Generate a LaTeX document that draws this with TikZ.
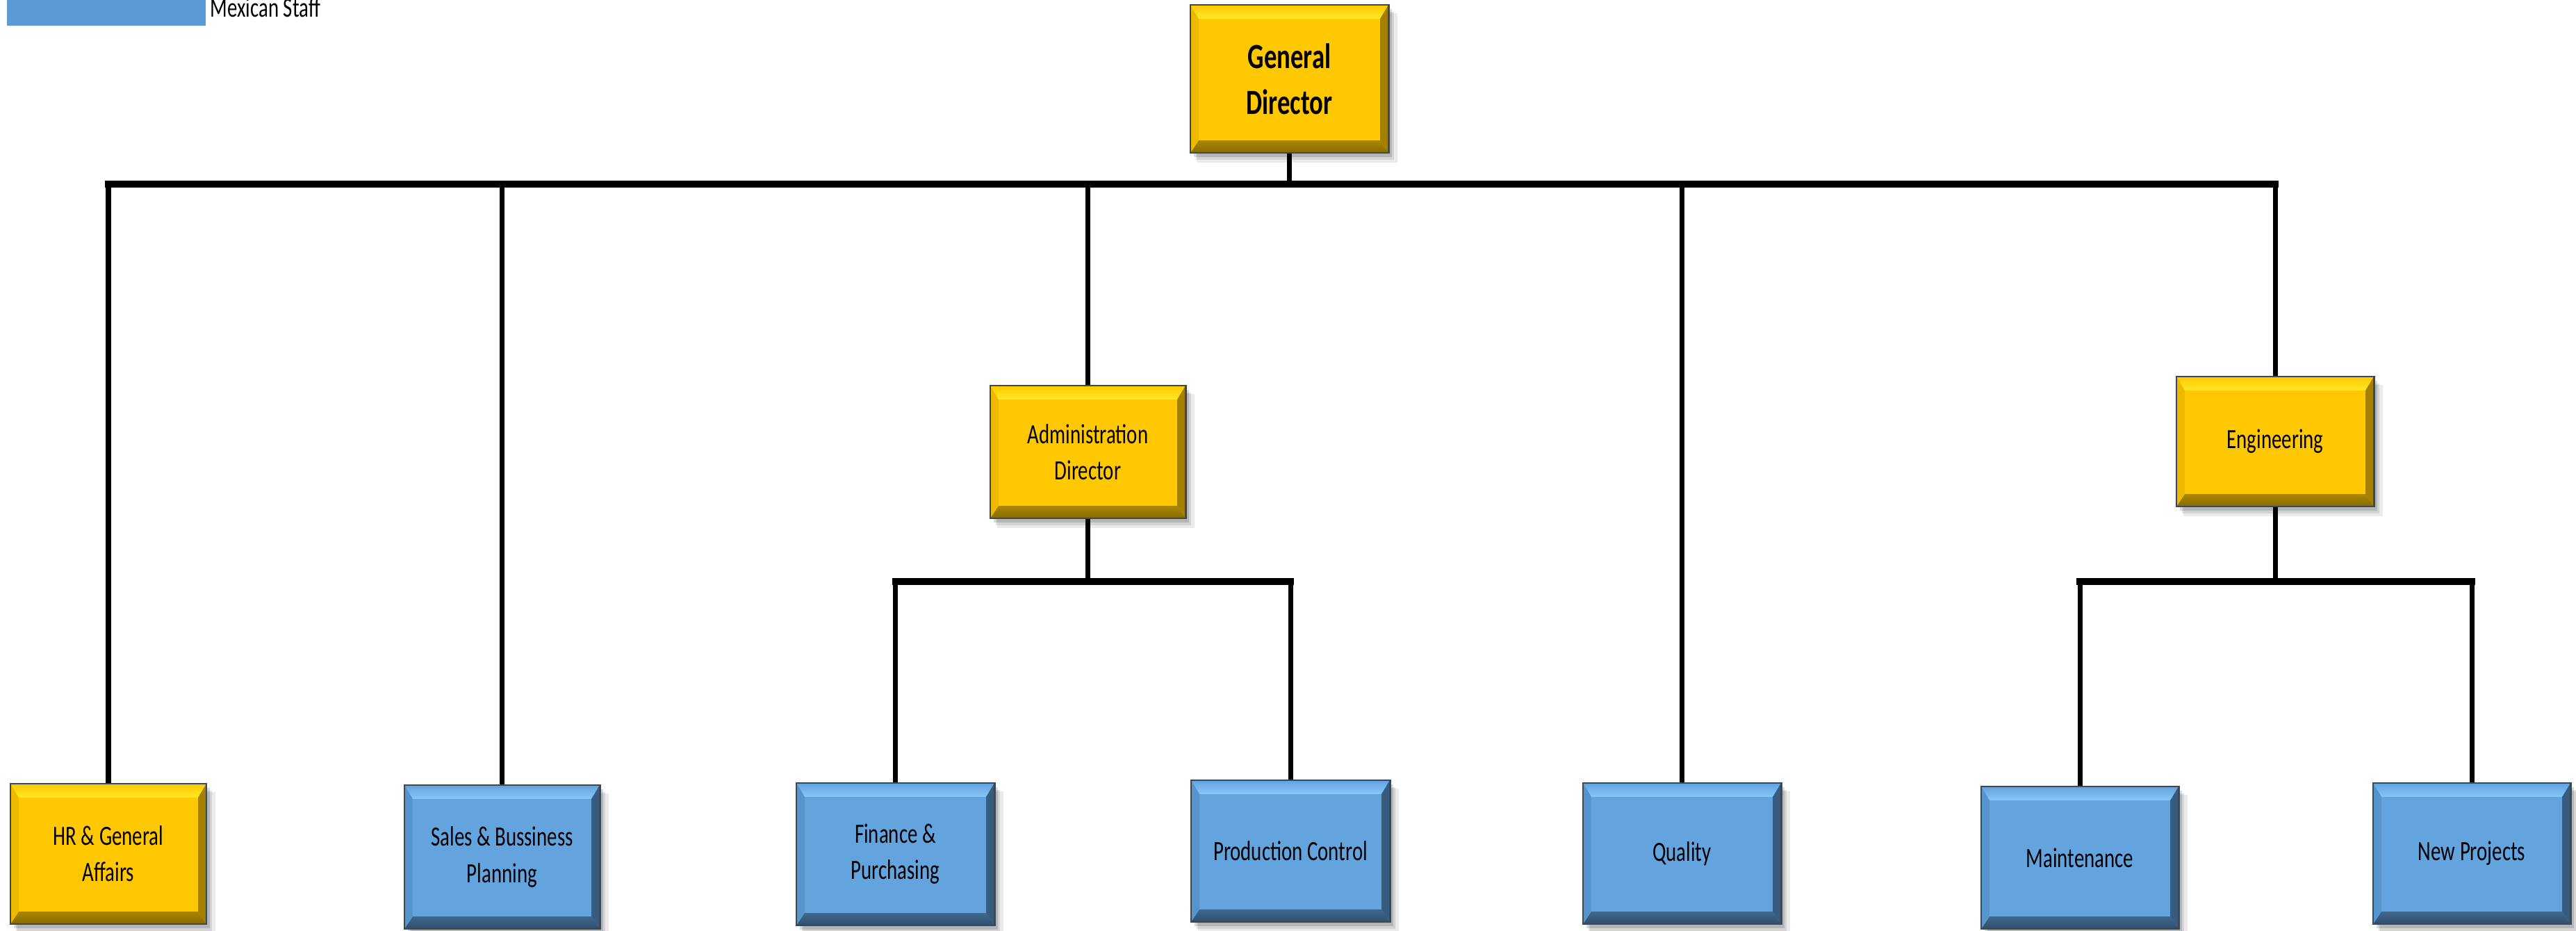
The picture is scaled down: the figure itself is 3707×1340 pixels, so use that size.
\documentclass[tikz,border=0pt]{standalone}
\usepackage{fontspec}
\setmainfont[FakeStretch=0.72]{Carlito}
\usetikzlibrary{shadows}
\definecolor{ylwmain}{RGB}{255,200,0}
\definecolor{ylwtop}{RGB}{255,232,40}
\definecolor{ylwbot}{RGB}{135,106,0}
\definecolor{ylwright}{RGB}{165,128,0}
\definecolor{ylwleft}{RGB}{238,186,0}
\definecolor{blumain}{RGB}{99,163,222}
\definecolor{blutop}{RGB}{135,198,250}
\definecolor{blubot}{RGB}{48,78,108}
\definecolor{bluright}{RGB}{56,92,128}
\definecolor{bluleft}{RGB}{88,148,204}
\definecolor{legendblue}{RGB}{91,155,213}
\definecolor{boxborder}{RGB}{58,72,88}
\tikzset{
  softshadow/.style={
    general shadow={shadow xshift=1.1mm, shadow yshift=-1.3mm, shadow scale=1.01, opacity=0.08, fill=black},
    general shadow={shadow xshift=0.8mm, shadow yshift=-1.0mm, opacity=0.10, fill=black},
    general shadow={shadow xshift=0.5mm, shadow yshift=-0.6mm, opacity=0.14, fill=black}
  },
  bevelbox/.style n args={5}{
    draw=boxborder, line width=0.8pt, fill=#1, inner sep=0pt, align=center,
    softshadow,
    font=\fontsize{11.4}{14.8}\selectfont,
    path picture={
      \coordinate (pnw) at (path picture bounding box.north west);
      \coordinate (pne) at (path picture bounding box.north east);
      \coordinate (psw) at (path picture bounding box.south west);
      \coordinate (pse) at (path picture bounding box.south east);
      \shade[top color=#1, bottom color=#2] (pnw) -- (pne) -- ([xshift=-1.2mm,yshift=-2mm]pne) -- ([xshift=1.2mm,yshift=-2mm]pnw) -- cycle;
      \shade[top color=#3!70!#1, bottom color=#3] (psw) -- (pse) -- ([xshift=-1.2mm,yshift=1.8mm]pse) -- ([xshift=1.2mm,yshift=1.8mm]psw) -- cycle;
      \fill[#4] (pne) -- (pse) -- ([xshift=-1.2mm,yshift=1.8mm]pse) -- ([xshift=-1.2mm,yshift=-2mm]pne) -- cycle;
      \fill[#5] (pnw) -- (psw) -- ([xshift=1.2mm,yshift=1.8mm]psw) -- ([xshift=1.2mm,yshift=-2mm]pnw) -- cycle;
    }
  },
  ybox/.style={bevelbox={ylwmain}{ylwtop}{ylwbot}{ylwright}{ylwleft}},
  bbox/.style={bevelbox={blumain}{blutop}{blubot}{bluright}{bluleft}},
  busline/.style={line width=2.85pt, line cap=rect, black},
  dropline/.style={line width=2pt, black},
}
\begin{document}
\begin{tikzpicture}[x=0.01cm, y=-0.01cm]
\useasboundingbox (0,0) rectangle (3707,1340);
% legend
\node[fill=legendblue, inner sep=0pt, minimum width=2.86cm, minimum height=0.4cm] (legend) at (153,17) {};
\node[anchor=base west, inner sep=0pt, font=\fontsize{11.4}{14.8}\selectfont] (legendtext) at (302,25) {Mexican Staff};
% boxes
\node[ybox, minimum width=2.85cm, minimum height=2.13cm, font=\bfseries\fontsize{14.5}{18.8}\selectfont] (gd) at (1855.5,113.5) {General\\Director};
\node[ybox, minimum width=2.81cm, minimum height=1.91cm] (adm) at (1565.5,650.5) {Administration\\Director};
\node[ybox, minimum width=2.84cm, minimum height=1.87cm] (eng) at (3274,635.5) {Engineering};
\node[ybox, minimum width=2.82cm, minimum height=2.02cm] (hr) at (156,1229) {HR \& General\\Affairs};
\node[bbox, minimum width=2.81cm, minimum height=2.07cm] (sales) at (722.5,1233.5) {Sales \& Bussiness\\Planning};
\node[bbox, minimum width=2.85cm, minimum height=2.05cm] (fin) at (1288.5,1229.5) {Finance \&\\Purchasing};
\node[bbox, minimum width=2.86cm, minimum height=2.04cm] (prod) at (1857,1225) {Production Control};
\node[bbox, minimum width=2.85cm, minimum height=2.03cm] (qual) at (2420.5,1228.5) {Quality};
\node[bbox, minimum width=2.84cm, minimum height=2.05cm] (mnt) at (2993,1234.5) {Maintenance};
\node[bbox, minimum width=2.84cm, minimum height=2.03cm] (np) at (3557,1228.5) {New Projects};
% bus coordinates
\coordinate (bus) at (0,265);
\coordinate (abus) at (0,837);
% main bus
\draw[dropline] (gd.south) -- (gd.south |- bus);
\draw[busline] (hr.north |- bus) -- (eng.north |- bus);
\foreach \n in {hr,sales,adm,qual,eng}
  \draw[dropline] (\n.north |- bus) -- (\n.north);
% admin sub-bus
\draw[dropline] (adm.south) -- (adm.south |- abus);
\draw[busline] (fin.north |- abus) -- (prod.north |- abus);
\foreach \n in {fin,prod}
  \draw[dropline] (\n.north |- abus) -- (\n.north);
% engineering sub-bus
\draw[dropline] (eng.south) -- (eng.south |- abus);
\draw[busline] (mnt.north |- abus) -- (np.north |- abus);
\foreach \n in {mnt,np}
  \draw[dropline] (\n.north |- abus) -- (\n.north);
\end{tikzpicture}
\end{document}
